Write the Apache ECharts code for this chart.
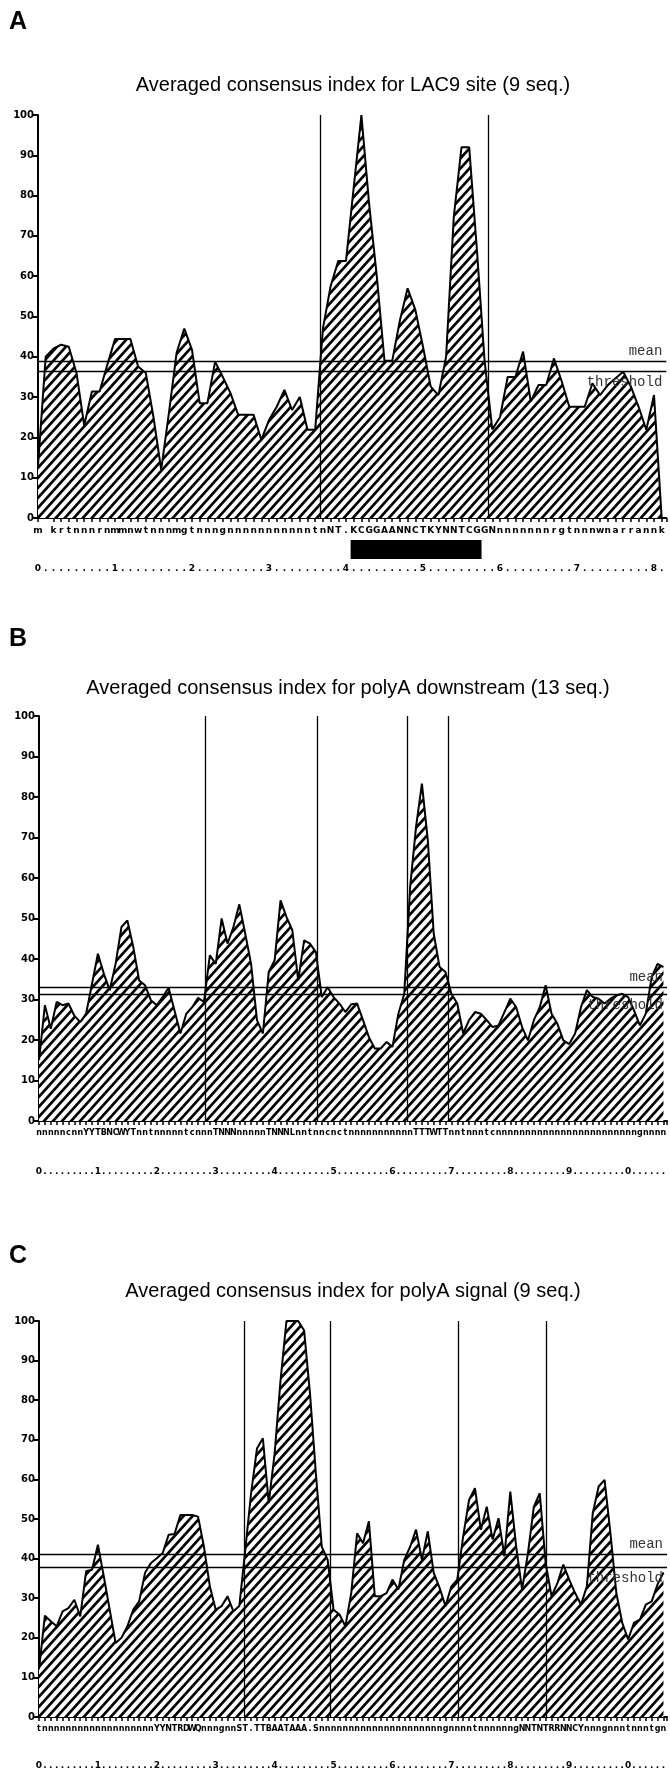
<!DOCTYPE html>
<html><head><meta charset="utf-8">
<script src="https://cdn.jsdelivr.net/npm/echarts@6/dist/echarts.min.js"></script>
<style>html,body{margin:0;padding:0;background:#fff}#chart{width:670px;height:1770px}</style>
</head><body><div id="chart"></div>
<script>
// ---------- DATA ----------
const titleA = "Averaged consensus index for LAC9 site (9 seq.)";
const titleB = "Averaged consensus index for polyA downstream (13 seq.)";
const titleC = "Averaged consensus index for polyA signal (9 seq.)";

const seqA = "mgkrtnnnrnmmnwtnnnmgtnnngnnnnnnnnnnntnNT.KCGGAANNCTKYNNTCGGNnnnnnnnrgtnnnwnarrannk";
const valuesA = [13,40,42,43,42.5,36,23,31.4,31.4,38,44.4,44.4,44.4,37.6,36,25,12,26,41,47,41.7,28.5,28.5,38.8,35,31,25.6,25.6,25.6,19.4,24.3,27.6,31.8,26.8,30,21.9,21.9,47,57.5,63.8,63.8,82,100,78,60,39,39,49,57,51.7,42.5,32.6,30.5,40,74.8,92,92,66.6,39,22,25,35,35,41.3,28.9,33,33,39.6,34,27.6,27.6,27.6,33.4,30.5,33,34.7,36.3,32.6,27.6,21.9,30.5,0];
const meanA = 39.0, thresholdA = 36.3;
const dividersA = [36.6, 58.5];
const siteA = [40.6, 57.6];

const seqB = "nnnnncnnYYTBNCWYTnntnnnnntcnnnTNNNnnnnnTNNNLnntnncnctnnnnnnnnnnnTTTWTTnntnnntcnnnnnnnnnnnnnnnnnnnnnnnngnnnnn";
const valuesB = [15,28.6,22.8,29.4,28.6,29,26,24.4,26.5,33.9,41.3,36.4,32.3,38.8,47.9,49.5,43,34.7,33.5,29.8,28.6,30.6,32.9,27.3,21.6,26.5,28.1,30.4,29.4,40.9,38.8,50,43.8,47.9,53.5,46.3,38.8,24.9,21.6,36.8,39.7,54.5,50.4,47.1,34.7,44.6,43.8,41.7,30.6,33,30.6,29,26.9,28.8,29,24.9,20.7,17.9,17.9,19.5,18.3,26.5,31.4,57.8,72.6,83.3,69.3,46.3,38,36.8,31.4,29,21.6,24.9,26.9,26.5,24.9,23.2,23.6,26.9,30.2,28.1,23.2,19.9,24.9,28.1,33.5,26.5,24,19.9,19,21.6,28.1,32.3,30.6,30.2,29,30.2,31,31.4,30.6,27.3,23.6,26.5,35.6,38.8,38];
const meanB = 33.0, thresholdB = 31.4;
const dividersB = [28.3, 47.2, 62.5, 69.4];

const seqC = "tnnnnnnnnnnnnnnnnnnnYYNTRDWQnnngnnST.TTBAATAAA.SnnnnnnnnnnnnnnnnnnnnngnnnntnnnnnngNNTNTRRNNCYnnngnnntnnntgnnnnnnnn";
const valuesC = [12,25.6,24.2,22.9,26.7,27.5,29.6,25.4,36.8,37.2,43.5,35.5,27.1,18.7,20,22.9,27.1,29.2,36.4,38.9,40.1,41.4,46,46.2,51,51,51,50.6,43,33,27.1,28,30.5,26.7,28,42,56.5,67.8,70.4,54,66.6,85,100,100,100,97.6,81.7,61.5,43,39.7,27.1,25.9,22.9,31.3,46.4,43.9,49.4,30.5,30.5,31.3,34.7,32.2,39.7,43,47.3,39.7,46.9,36.4,32.6,28,33,34.7,45.6,54.8,57.8,47.3,53.1,44.8,50.2,40.6,56.9,43,32.2,41.4,53.1,56.5,38.9,30.5,33.8,38.5,34.7,31.3,28.4,33,51.5,58.2,59.9,46.4,31.3,23.8,19.6,23.8,24.6,28.4,29.2,33.5,36.5];
const meanC = 41.2, thresholdC = 37.8;
const dividersC = [34.8, 49.5, 71.2, 86.1];

// ---------- STYLE ----------
function makeHatch() {
  const w = 9, h = 10;
  const c = document.createElement('canvas');
  c.width = w; c.height = h;
  const ctx = c.getContext('2d');
  ctx.fillStyle = '#fff'; ctx.fillRect(0, 0, w, h);
  ctx.strokeStyle = '#000'; ctx.lineWidth = 2.7;
  ctx.beginPath();
  // lines x/w + y/h = n, n=0,1,2
  [[-w, h, w, -h], [0, h, w, 0], [0, 2 * h, 2 * w, 0]].forEach(s => {
    ctx.moveTo(s[0], s[1]); ctx.lineTo(s[2], s[3]);
  });
  ctx.stroke();
  return c;
}
const hatch = makeHatch();

const chart = echarts.init(document.getElementById('chart'), null, {renderer: 'canvas'});

const panels = [
  {seq: seqA, values: valuesA, mean: meanA, thr: thresholdA, dividers: dividersA, left: 38, top: 115, height: 403, step: 7.7, seqFont: 9, seqMargin: 8, rulerOffset: 40},
  {seq: seqB, values: valuesB, mean: meanB, thr: thresholdB, dividers: dividersB, left: 39, top: 716, height: 405, step: 5.92, seqFont: 8, seqMargin: 8, rulerOffset: 40},
  {seq: seqC, values: valuesC, mean: meanC, thr: thresholdC, dividers: dividersC, left: 39, top: 1321, height: 397, step: 5.9, seqFont: 8, seqMargin: 8, rulerOffset: 38}
];

const grid = [], xAxis = [], yAxis = [], series = [];
const monoLabel = "'Liberation Mono', 'DejaVu Sans Mono', monospace";
const boldSmall = "'DejaVu Sans', 'Liberation Sans', sans-serif";

panels.forEach((p, gi) => {
  const n = p.values.length;
  const xmax = n - 1 + 0.6;
  grid.push({left: p.left, top: p.top, height: p.height, width: p.step * xmax, containLabel: false});
  const isInt = v => Math.abs(v - Math.round(v)) < 1e-6;
  xAxis.push({
    gridIndex: gi, type: 'value', min: 0, max: xmax, interval: 1, position: 'bottom',
    axisLine: {show: true, onZero: false, lineStyle: {color: '#000', width: 2}},
    axisTick: {show: true, length: 4, lineStyle: {color: '#000', width: 1.5}},
    splitLine: {show: false},
    axisLabel: {
      show: true, margin: p.seqMargin, showMinLabel: true, showMaxLabel: true, hideOverlap: false,
      fontFamily: boldSmall, fontWeight: 'bold', fontSize: p.seqFont, color: '#000',
      formatter: v => (isInt(v) && Math.round(v) < p.seq.length) ? p.seq[Math.round(v)] : ''
    }
  });
  xAxis.push({
    gridIndex: gi, type: 'value', min: 0, max: xmax, interval: 1, position: 'bottom', offset: p.rulerOffset,
    axisLine: {show: false}, axisTick: {show: false}, splitLine: {show: false},
    axisLabel: {
      show: true, margin: 6, showMinLabel: true, showMaxLabel: true, hideOverlap: false,
      fontFamily: boldSmall, fontWeight: 'bold', fontSize: 9, color: '#000',
      formatter: v => { if (!isInt(v)) return ''; const k = Math.round(v); if (k >= n) return ''; return k % 10 === 0 ? String((k / 10) % 10) : '.'; }
    }
  });
  yAxis.push({
    gridIndex: gi, type: 'value', min: 0, max: 100, interval: 10,
    axisLine: {show: true, lineStyle: {color: '#000', width: 2}},
    axisTick: {show: true, length: 6, lineStyle: {color: '#000', width: 2}},
    splitLine: {show: false},
    axisLabel: {margin: 4, fontFamily: boldSmall, fontWeight: 'bold', fontSize: 10, color: '#000'}
  });
  const markData = [
    {yAxis: p.mean, label: {show: true, formatter: 'mean', position: 'insideEndTop', distance: [4, 3]}},
    {yAxis: p.thr, label: {show: true, formatter: 'threshold', position: 'insideEndBottom', distance: [4, 4]}}
  ];
  p.dividers.forEach(d => markData.push({xAxis: d, label: {show: false}}));
  series.push({
    type: 'line', xAxisIndex: gi * 2, yAxisIndex: gi, symbol: 'none', silent: true, animation: false,
    data: p.values.map((v, i) => [i, v]),
    lineStyle: {color: '#000', width: 2},
    areaStyle: {color: {image: hatch, repeat: 'repeat'}, opacity: 1},
    markLine: {
      silent: true, symbol: 'none', animation: false,
      lineStyle: {color: '#000', width: 1.3, type: 'solid'},
      label: {fontFamily: monoLabel, fontSize: 14, color: '#333'},
      data: markData
    }
  });
});

// LAC9 site bar below panel A
series.push({
  type: 'custom', xAxisIndex: 0, yAxisIndex: 0, clip: false, silent: true, animation: false,
  data: [siteA],
  renderItem: (params, api) => {
    const a = api.coord([api.value(0), 0]);
    const b = api.coord([api.value(1), 0]);
    return {type: 'rect', shape: {x: a[0], y: a[1] + 22, width: b[0] - a[0], height: 19}, style: {fill: '#000'}};
  }
});

const titleFont = "'Liberation Sans', Arial, Helvetica, sans-serif";
const graphic = [
  {type: 'text', x: 9, y: 22, style: {text: 'A', font: "bold 25px " + titleFont, fill: '#000', verticalAlign: 'middle'}},
  {type: 'text', x: 9, y: 639, style: {text: 'B', font: "bold 25px " + titleFont, fill: '#000', verticalAlign: 'middle'}},
  {type: 'text', x: 9, y: 1256, style: {text: 'C', font: "bold 25px " + titleFont, fill: '#000', verticalAlign: 'middle'}},
  {type: 'text', x: 353, y: 85, style: {text: titleA, font: "20px " + titleFont, fill: '#000', align: 'center', verticalAlign: 'middle'}},
  {type: 'text', x: 348, y: 688, style: {text: titleB, font: "20px " + titleFont, fill: '#000', align: 'center', verticalAlign: 'middle'}},
  {type: 'text', x: 353, y: 1291, style: {text: titleC, font: "20px " + titleFont, fill: '#000', align: 'center', verticalAlign: 'middle'}}
];

chart.setOption({animation: false, backgroundColor: '#fff', grid, xAxis, yAxis, series, graphic});
</script></body></html>
